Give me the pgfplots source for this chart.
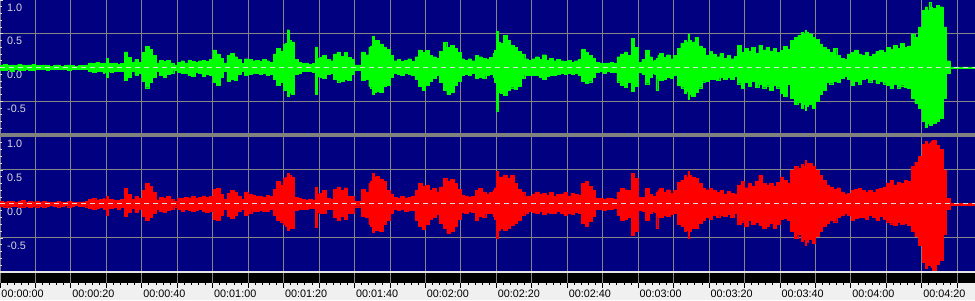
\documentclass[border=0pt]{standalone}
\usepackage{fontspec}
\setmainfont{Liberation Sans}
\usepackage{pgfplots}
\usepackage{pgfplotstable}
\pgfplotsset{compat=1.18}
\definecolor{navyb}{HTML}{000080}
\definecolor{gridg}{HTML}{858585}
\definecolor{wgreen}{HTML}{00FF00}
\definecolor{wred}{HTML}{FF0000}
\definecolor{rulerbg}{HTML}{F0F0F0}
\definecolor{ylab}{HTML}{DCDCDC}
\definecolor{sepgrey}{HTML}{808080}

\pgfplotstableread{
t gu gl ru rl
0 0.04 -0.04 0.04 -0.03
1 0.05 -0.04 0.03 -0.04
2 0.03 -0.03 0.04 -0.04
3 0.04 -0.05 0.04 -0.03
4 0.03 -0.03 0.02 -0.03
5 0.05 -0.04 0.04 -0.04
6 0.04 -0.04 0.05 -0.04
7 0.03 -0.03 0.03 -0.03
8 0.04 -0.04 0.04 -0.05
9 0.05 -0.04 0.03 -0.03
10 0.03 -0.03 0.04 -0.04
11 0.03 -0.03 0.03 -0.03
12 0.04 -0.03 0.04 -0.04
13 0.03 -0.04 0.03 -0.03
14 0.02 -0.02 0.02 -0.02
15 0.03 -0.03 0.03 -0.03
16 0.04 -0.03 0.04 -0.04
17 0.02 -0.03 0.03 -0.03
18 0.03 -0.02 0.02 -0.02
19 0.04 -0.04 0.04 -0.04
20 0.03 -0.03 0.03 -0.03
21 0.02 -0.02 0.02 -0.02
22 0.03 -0.03 0.03 -0.03
23 0.03 -0.03 0.03 -0.03
24 0.04 -0.03 0.04 -0.04
25 0.07 -0.06 0.07 -0.06
26 0.06 -0.07 0.08 -0.07
27 0.08 -0.06 0.06 -0.06
28 0.06 -0.05 0.07 -0.05
29 0.07 -0.08 0.08 -0.08
29.5 0.07 -0.07 0.07 -0.07
30 0.14 -0.15 0.12 -0.16
30.5 0.07 -0.06 0.07 -0.06
31 0.06 -0.07 0.07 -0.06
32 0.07 -0.05 0.06 -0.05
33 0.05 -0.06 0.05 -0.07
34 0.06 -0.05 0.07 -0.05
35 0.23 -0.19 0.23 -0.18
36 0.15 -0.14 0.14 -0.12
37 0.08 -0.06 0.07 -0.06
38 0.12 -0.11 0.11 -0.12
39 0.08 -0.09 0.08 -0.07
40 0.22 -0.20 0.20 -0.18
41 0.31 -0.30 0.30 -0.24
42 0.27 -0.22 0.26 -0.20
43 0.18 -0.15 0.17 -0.14
44 0.07 -0.06 0.06 -0.07
45 0.11 -0.12 0.10 -0.11
46 0.09 -0.14 0.09 -0.12
47 0.11 -0.10 0.11 -0.09
48 0.07 -0.09 0.07 -0.08
49 0.04 -0.04 0.04 -0.04
50 0.08 -0.07 0.09 -0.08
51 0.10 -0.09 0.08 -0.10
52 0.07 -0.08 0.10 -0.08
53 0.11 -0.12 0.09 -0.09
54 0.09 -0.13 0.11 -0.10
55 0.08 -0.07 0.08 -0.09
56 0.10 -0.09 0.10 -0.08
57 0.11 -0.13 0.12 -0.11
58 0.09 -0.10 0.10 -0.12
59 0.12 -0.11 0.11 -0.10
60 0.26 -0.22 0.22 -0.23
61 0.20 -0.26 0.23 -0.24
62 0.14 -0.15 0.14 -0.16
63 0.07 -0.06 0.07 -0.07
64 0.18 -0.20 0.16 -0.18
65 0.21 -0.18 0.20 -0.21
66 0.16 -0.19 0.18 -0.17
67 0.12 -0.10 0.12 -0.11
68 0.06 -0.06 0.07 -0.07
69 0.13 -0.11 0.18 -0.16
70 0.12 -0.10 0.14 -0.13
71 0.10 -0.09 0.13 -0.10
72 0.11 -0.08 0.11 -0.11
73 0.09 -0.10 0.12 -0.09
74 0.12 -0.09 0.10 -0.11
75 0.10 -0.11 0.13 -0.10
76 0.08 -0.10 0.11 -0.08
77 0.20 -0.18 0.22 -0.16
78 0.28 -0.26 0.33 -0.24
79 0.24 -0.22 0.28 -0.26
80 0.35 -0.33 0.38 -0.30
80.5 0.36 -0.33 0.40 -0.32
81 0.56 -0.42 0.45 -0.38
81.5 0.40 -0.36 0.42 -0.36
82 0.38 -0.40 0.40 -0.35
83 0.12 -0.10 0.10 -0.09
84 0.08 -0.09 0.08 -0.08
85 0.06 -0.06 0.07 -0.07
86 0.07 -0.05 0.06 -0.07
87 0.05 -0.06 0.07 -0.06
88 0.06 -0.07 0.06 -0.06
88.5 0.06 -0.06 0.06 -0.06
89 0.30 -0.40 0.25 -0.34
89.5 0.14 -0.13 0.15 -0.12
90 0.15 -0.14 0.16 -0.13
91 0.18 -0.16 0.20 -0.14
92 0.12 -0.10 0.09 -0.08
93 0.10 -0.09 0.07 -0.07
94 0.20 -0.18 0.22 -0.20
95 0.23 -0.21 0.25 -0.24
96 0.17 -0.20 0.20 -0.18
97 0.22 -0.18 0.24 -0.22
98 0.15 -0.19 0.12 -0.14
99 0.12 -0.10 0.11 -0.13
100 0.04 -0.04 0.04 -0.04
101 0.04 -0.04 0.04 -0.04
102 0.23 -0.19 0.22 -0.18
103 0.19 -0.17 0.18 -0.19
104 0.30 -0.28 0.30 -0.29
104.5 0.32 -0.30 0.34 -0.32
105 0.46 -0.39 0.45 -0.42
105.5 0.40 -0.36 0.40 -0.38
106 0.40 -0.35 0.41 -0.38
107 0.35 -0.37 0.37 -0.40
108 0.30 -0.28 0.33 -0.30
109 0.27 -0.26 0.20 -0.24
110 0.18 -0.15 0.15 -0.14
111 0.10 -0.09 0.10 -0.08
112 0.12 -0.10 0.08 -0.09
113 0.09 -0.11 0.11 -0.08
114 0.11 -0.09 0.09 -0.10
115 0.13 -0.10 0.10 -0.09
116 0.09 -0.12 0.11 -0.09
117 0.16 -0.18 0.20 -0.24
118 0.26 -0.28 0.30 -0.32
119 0.22 -0.34 0.26 -0.37
120 0.25 -0.26 0.28 -0.30
121 0.18 -0.20 0.20 -0.22
122 0.16 -0.16 0.23 -0.19
123 0.14 -0.12 0.18 -0.15
124 0.24 -0.22 0.25 -0.28
125 0.37 -0.33 0.38 -0.36
126 0.30 -0.40 0.34 -0.43
127 0.33 -0.36 0.36 -0.40
128 0.28 -0.26 0.30 -0.33
129 0.22 -0.20 0.22 -0.23
130 0.13 -0.11 0.13 -0.12
131 0.11 -0.10 0.12 -0.13
132 0.13 -0.12 0.10 -0.10
133 0.10 -0.08 0.11 -0.12
134 0.18 -0.16 0.20 -0.24
135 0.16 -0.14 0.23 -0.18
136 0.14 -0.16 0.18 -0.20
137 0.12 -0.12 0.15 -0.14
138 0.15 -0.10 0.17 -0.14
139 0.21 -0.15 0.20 -0.18
139.5 0.25 -0.22 0.24 -0.22
140 0.54 -0.64 0.48 -0.50
140.5 0.38 -0.36 0.40 -0.38
141 0.36 -0.38 0.40 -0.36
142 0.48 -0.41 0.43 -0.38
143 0.40 -0.34 0.38 -0.35
144 0.33 -0.30 0.42 -0.31
145 0.30 -0.32 0.30 -0.28
146 0.24 -0.28 0.22 -0.24
147 0.20 -0.16 0.18 -0.16
148 0.13 -0.11 0.11 -0.13
149 0.11 -0.12 0.12 -0.10
150 0.13 -0.11 0.15 -0.12
151 0.16 -0.12 0.18 -0.13
152 0.12 -0.15 0.14 -0.11
153 0.19 -0.17 0.16 -0.15
154 0.11 -0.13 0.13 -0.12
155 0.14 -0.12 0.17 -0.14
156 0.10 -0.11 0.12 -0.13
157 0.12 -0.10 0.14 -0.11
158 0.10 -0.09 0.15 -0.14
159 0.09 -0.10 0.17 -0.16
160 0.11 -0.09 0.12 -0.13
161 0.08 -0.10 0.16 -0.15
162 0.10 -0.08 0.14 -0.12
163 0.12 -0.11 0.13 -0.14
164 0.27 -0.20 0.30 -0.28
165 0.22 -0.23 0.33 -0.33
166 0.18 -0.21 0.26 -0.25
167 0.14 -0.15 0.20 -0.18
168 0.08 -0.07 0.09 -0.08
169 0.07 -0.06 0.08 -0.07
170 0.06 -0.08 0.07 -0.09
171 0.07 -0.06 0.09 -0.07
172 0.08 -0.07 0.08 -0.08
173 0.06 -0.07 0.07 -0.06
174 0.16 -0.21 0.18 -0.17
175 0.20 -0.26 0.23 -0.24
176 0.23 -0.29 0.21 -0.22
177 0.18 -0.22 0.20 -0.19
178 0.43 -0.35 0.45 -0.46
179 0.30 -0.28 0.38 -0.40
180 0.08 -0.07 0.10 -0.09
181 0.12 -0.10 0.10 -0.11
182 0.26 -0.24 0.23 -0.24
183 0.16 -0.15 0.14 -0.13
184 0.10 -0.09 0.12 -0.11
184.5 0.11 -0.10 0.12 -0.12
185 0.14 -0.34 0.18 -0.36
185.5 0.18 -0.17 0.20 -0.18
186 0.21 -0.19 0.23 -0.19
187 0.15 -0.17 0.17 -0.16
188 0.19 -0.14 0.21 -0.18
189 0.13 -0.16 0.16 -0.15
190 0.18 -0.12 0.20 -0.14
191 0.28 -0.26 0.32 -0.30
192 0.36 -0.30 0.35 -0.33
193 0.40 -0.38 0.42 -0.40
193.5 0.38 -0.35 0.40 -0.38
194 0.50 -0.47 0.48 -0.50
194.5 0.40 -0.40 0.42 -0.40
195 0.38 -0.42 0.40 -0.36
196 0.45 -0.36 0.38 -0.35
197 0.32 -0.30 0.30 -0.28
198 0.28 -0.21 0.23 -0.24
199 0.18 -0.20 0.21 -0.20
200 0.24 -0.17 0.23 -0.22
201 0.20 -0.18 0.20 -0.17
202 0.16 -0.19 0.17 -0.19
203 0.21 -0.15 0.20 -0.16
204 0.14 -0.17 0.15 -0.18
205 0.18 -0.14 0.19 -0.15
206 0.13 -0.18 0.16 -0.19
207 0.17 -0.13 0.14 -0.14
208 0.33 -0.24 0.28 -0.30
209 0.22 -0.31 0.33 -0.26
210 0.28 -0.22 0.24 -0.33
211 0.24 -0.28 0.30 -0.24
212 0.30 -0.20 0.26 -0.30
213 0.21 -0.29 0.33 -0.27
214 0.33 -0.25 0.42 -0.31
215 0.26 -0.30 0.30 -0.36
216 0.30 -0.27 0.28 -0.32
217 0.24 -0.33 0.30 -0.28
218 0.28 -0.26 0.26 -0.35
219 0.22 -0.30 0.32 -0.30
220 0.25 -0.38 0.40 -0.22
221 0.31 -0.43 0.35 -0.21
222 0.27 -0.25 0.30 -0.24
223 0.40 -0.45 0.50 -0.40
224 0.45 -0.55 0.55 -0.50
225 0.48 -0.52 0.52 -0.45
226 0.52 -0.60 0.58 -0.55
226.5 0.50 -0.55 0.55 -0.52
227 0.55 -0.63 0.65 -0.60
227.5 0.52 -0.58 0.60 -0.56
228 0.50 -0.55 0.60 -0.52
229 0.45 -0.60 0.55 -0.58
230 0.42 -0.50 0.50 -0.48
231 0.35 -0.40 0.42 -0.40
232 0.30 -0.33 0.35 -0.32
233 0.27 -0.22 0.28 -0.28
234 0.22 -0.24 0.25 -0.24
235 0.28 -0.20 0.22 -0.26
236 0.18 -0.22 0.24 -0.20
237 0.14 -0.16 0.18 -0.16
238 0.12 -0.13 0.14 -0.14
239 0.20 -0.18 0.16 -0.17
240 0.22 -0.26 0.20 -0.24
241 0.26 -0.20 0.22 -0.21
242 0.20 -0.24 0.23 -0.20
243 0.18 -0.18 0.20 -0.19
244 0.22 -0.16 0.18 -0.22
245 0.17 -0.21 0.20 -0.17
246 0.20 -0.18 0.17 -0.20
247 0.24 -0.23 0.22 -0.24
248 0.26 -0.20 0.23 -0.18
249 0.22 -0.24 0.25 -0.22
250 0.30 -0.26 0.30 -0.26
251 0.27 -0.31 0.35 -0.29
252 0.33 -0.25 0.28 -0.31
253 0.28 -0.30 0.32 -0.27
254 0.36 -0.27 0.30 -0.30
255 0.30 -0.29 0.35 -0.28
256 0.32 -0.31 0.33 -0.31
257 0.50 -0.45 0.55 -0.40
258 0.45 -0.53 0.62 -0.48
259 0.60 -0.60 0.70 -0.60
260 0.85 -0.80 0.88 -0.85
261 0.90 -0.88 0.92 -0.95
261.5 0.85 -0.82 0.88 -0.90
262 0.97 -0.85 0.90 -0.90
262.5 0.90 -0.86 0.92 -0.93
263 0.88 -0.83 0.94 -0.97
264 0.92 -0.80 0.86 -0.88
265 0.90 -0.75 0.80 -0.82
266 0.60 -0.45 0.50 -0.45
267 0.10 -0.08 0.08 -0.07
268 0.01 -0.01 0.01 -0.01
269 0.01 -0.01 0.01 -0.01
270 0.01 -0.01 0.01 -0.01
271 0.01 -0.01 0.01 -0.01
272 0.01 -0.01 0.01 -0.01
273 0.01 -0.01 0.01 -0.01
274 0.01 -0.01 0.01 -0.01
275 0.01 -0.01 0.01 -0.01
}\wave

\pgfplotsset{
  panel/.style={
    scale only axis, width=975pt, xmin=0, xmax=275, ymin=-1, ymax=1,
    axis background/.style={fill=navyb},
    axis line style={draw=none},
    xtick={0,10,...,270}, xticklabels={}, xtick style={draw=none},
    xmajorgrids, ymajorgrids,
    major grid style={draw=gridg, line width=1pt},
    ytick={-1,-0.5,0,0.5,1}, yticklabels={,-0.5,0.0,0.5,1.0},
    minor y tick num=4, ytick pos=left, tick align=inside,
    ytick style={draw=ylab, line width=0.8pt},
    major tick length=3pt, minor tick length=2pt,
    yticklabel style={anchor=north west, inner sep=0pt, xshift=7pt, yshift=-3.5pt,
      text=ylab, font=\fontsize{10.8}{12}\selectfont},
  },
  wave/.style={ybar interval, fill=#1, draw=#1, line width=0.3pt},
}

\begin{document}
\begin{tikzpicture}
\fill[rulerbg] (0pt,0pt) rectangle (975pt,17pt);

% top (green) channel
\begin{axis}[panel, name=top, at={(0pt,300pt)}, anchor=north west, height=135pt]
\addplot[wave=wgreen] table[x=t, y=gu] {\wave};
\addplot[wave=wgreen] table[x=t, y=gl] {\wave};
\draw[ylab, line width=1pt, dash pattern=on 5pt off 4pt] (axis cs:0,0) -- (axis cs:275,0);
\end{axis}

% bottom (red) channel
\begin{axis}[panel, name=bot, at={(0pt,164pt)}, anchor=north west, height=136pt]
\addplot[wave=wred] table[x=t, y=ru] {\wave};
\addplot[wave=wred] table[x=t, y=rl] {\wave};
\draw[ylab, line width=1pt, dash pattern=on 5pt off 4pt] (axis cs:0,0) -- (axis cs:275,0);
\end{axis}

% black bar
\begin{axis}[scale only axis, width=975pt, height=10.5pt, at={(0pt,27.5pt)}, anchor=north west,
  xmin=0, xmax=275, ymin=0, ymax=1, axis background/.style={fill=black},
  axis line style={draw=none}, ytick=\empty, xtick={0,10,...,270}, xticklabels={},
  xtick style={draw=none}, xmajorgrids, major grid style={draw=gridg, line width=1pt}]
\addplot[draw=none] coordinates {(0,0) (275,1)};
\end{axis}

% ruler
\begin{axis}[scale only axis, width=975pt, height=5pt, at={(0pt,17pt)}, anchor=north west,
  xmin=0, xmax=275, ymin=0, ymax=1, axis line style={draw=none}, ytick=\empty,
  xtick={0,10,...,270},
  xticklabels={00:00:00,,00:00:20,,00:00:40,,00:01:00,,00:01:20,,00:01:40,,00:02:00,,00:02:20,,00:02:40,,00:03:00,,00:03:20,,00:03:40,,00:04:00,,00:04:20},
  minor x tick num=4, xtick pos=right, xticklabel pos=left, tick align=inside,
  major tick length=5pt, minor tick length=2pt, xtick style={draw=black, line width=1pt},
  xticklabel style={anchor=north west, inner sep=0pt, xshift=1.3pt, yshift=-1.3pt,
    font=\fontsize{10.8}{12}\selectfont}]
\addplot[draw=none] coordinates {(0,0) (275,1)};
\end{axis}

\fill[sepgrey] (0pt,163pt) rectangle (975pt,166.5pt);
\draw[white!80!gray, line width=1.2pt] (0pt,28pt) -- (975pt,28pt);
\pgfresetboundingbox
\path[use as bounding box] (0pt,0pt) rectangle (975pt,300pt);
\end{tikzpicture}
\end{document}
